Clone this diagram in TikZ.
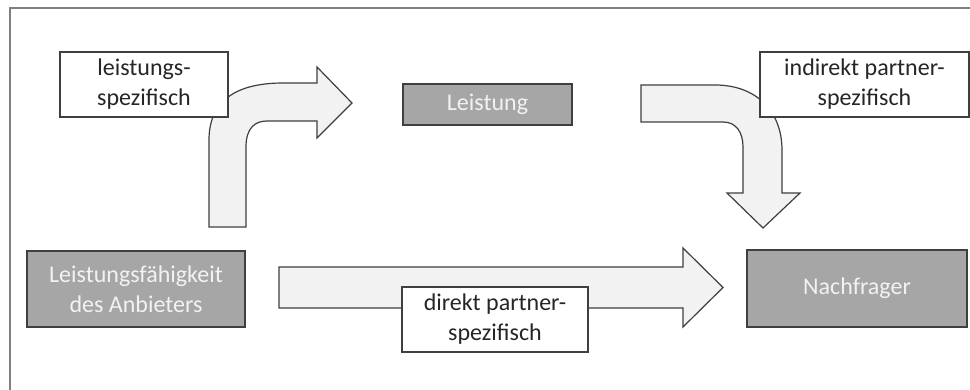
\documentclass[tikz,border=0pt]{standalone}
\usepackage{fontspec}
\setmainfont{Carlito}
\usetikzlibrary{shadows}
\definecolor{edgec}{HTML}{3F3F3F}
\definecolor{boxgray}{HTML}{A6A6A6}
\definecolor{arrfill}{HTML}{F2F2F2}
\definecolor{gtext}{HTML}{F2F2F2}
\definecolor{ltext}{HTML}{262626}
\definecolor{framec}{HTML}{7F7F7F}
\begin{document}
\begin{tikzpicture}[x=1pt,y=-1pt,
  lbl/.style={draw=edgec, fill=white, line width=1.2pt, inner sep=0pt, align=center,
    font=\fontsize{24}{30}\selectfont, text=ltext,
    drop shadow={shadow xshift=0.8pt, shadow yshift=-1pt, opacity=0.35}},
  gbox/.style={draw=edgec, fill=boxgray, line width=1.2pt, inner sep=0pt, align=center,
    font=\fontsize{24}{30}\selectfont, text=gtext,
    drop shadow={shadow xshift=0.8pt, shadow yshift=-1.2pt, opacity=0.4}},
  blockarrow/.style={draw=edgec, fill=arrfill, line width=1.2pt, line join=miter}
]
\useasboundingbox (0,0) rectangle (970,390);
\fill[white] (0,0) rectangle (970,390);
% frame
\draw[framec, line width=1.5pt] (10,391) -- (10,8) -- (971,8);

% bent arrow 1 (up and right)
\draw[blockarrow] (209,227) -- (209,140)
  .. controls (209,98) and (240,83) .. (283,83)
  -- (317,83) -- (317,67) -- (352,103) -- (317,138) -- (317,121) -- (267,121)
  .. controls (255,121) and (246,128) .. (246,147)
  -- (246,227) -- cycle;

% bent arrow 2 (right and down)
\draw[blockarrow] (641,85) -- (715,85)
  .. controls (757,85) and (782,112) .. (782,150)
  -- (782,193) -- (800,193) -- (763,228) -- (727,193) -- (743,193) -- (743,147)
  .. controls (743,132) and (736,122) .. (723,122)
  -- (641,122) -- cycle;

% straight arrow
\draw[blockarrow] (279,267) -- (683,267) -- (683,248) -- (723,287.5) -- (683,327)
  -- (683,308) -- (279,308) -- cycle;

% boxes
\node[gbox, minimum width=169pt, minimum height=41pt] (leistung) at (487.5,104.5) {Leistung};
\node[gbox, minimum width=218pt, minimum height=76pt] (anbieter) at (136,289) {Leistungsfähigkeit\\des Anbieters};
\node[gbox, minimum width=220pt, minimum height=77pt] (nachfrager) at (857,288.5) {Nachfrager};

\node[lbl, minimum width=168pt, minimum height=65pt] (lspez) at (144,84.5) {leistungs-\\spezifisch};
\node[lbl, minimum width=209pt, minimum height=65pt] (indirekt) at (864.5,84.5) {indirekt partner-\\spezifisch};
\node[lbl, minimum width=186pt, minimum height=65pt] (direkt) at (495,319.5) {direkt partner-\\spezifisch};
\end{tikzpicture}
\end{document}
